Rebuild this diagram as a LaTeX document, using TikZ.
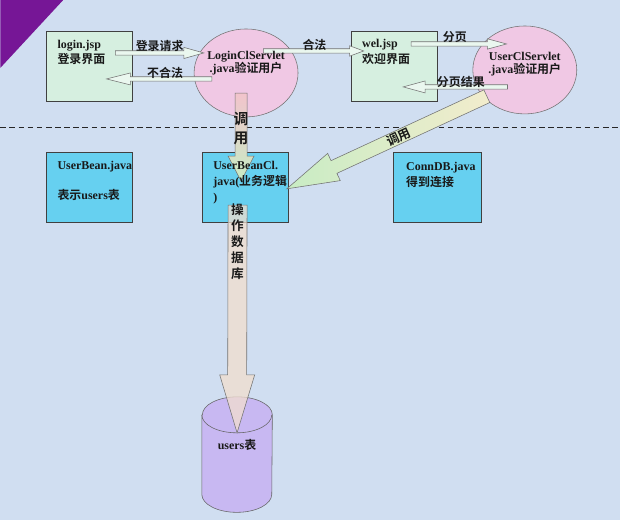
\documentclass[tikz,border=0pt]{standalone}
\usepackage{fontspec}
\setmainfont{Liberation Serif}
\newfontfamily\cjk{Noto Sans CJK SC}[BoldFont={* Bold}]
\usepackage{xcolor}
\usetikzlibrary{shapes.geometric,calc,positioning}
\definecolor{bgblue}{RGB}{208,222,241}
\definecolor{boxgreen}{RGB}{214,239,224}
\definecolor{boxcyan}{RGB}{102,208,240}
\definecolor{servletpink}{RGB}{240,200,228}
\definecolor{dbviolet}{RGB}{200,184,242}
\definecolor{cornerpurple}{RGB}{118,22,150}
\definecolor{arrowpeach}{RGB}{242,222,206}
\definecolor{arrowyellow}{RGB}{242,240,204}
\definecolor{arrowgreen}{RGB}{200,236,196}
\definecolor{arrowpink}{RGB}{242,196,204}
\newcommand{\zh}[1]{{\cjk #1}}
% block arrow: [style]{from}{to}{half shaft}{half head}{head length}
\newcommand{\blockarrow}[6][]{%
  \coordinate (ba-base) at ($(#3)!#6!(#2)$);
  \draw[#1] ($(#2)!#4!90:(#3)$) -- ($(ba-base)!#4!90:(#3)$) -- ($(ba-base)!#5!90:(#3)$) -- (#3)
    -- ($(ba-base)!#5!-90:(#3)$) -- ($(ba-base)!#4!-90:(#3)$) -- ($(#2)!#4!-90:(#3)$) -- cycle;}

\begin{document}
\begin{tikzpicture}[x=0.025cm, y=-0.025cm,
    font=\fontsize{8.5}{11.3}\selectfont\bfseries,
    jspbox/.style={rectangle, draw=black!75, fill=boxgreen, minimum width=2.15cm, minimum height=1.75cm, inner sep=0pt},
    beanbox/.style={jspbox, fill=boxcyan},
    servlet/.style={ellipse, draw=black!55, fill=servletpink, minimum width=2.6cm, minimum height=2.2cm, inner sep=0pt},
    txt/.style={inner sep=0pt, align=left, text=black!90},
    lbl/.style={inner sep=0pt, text=black!90},
    thinarrow/.style={draw=black!55, fill=boxgreen!50!white, line width=0.4pt},
    caparc/.style={x radius=0.875cm, y radius=0.45cm}]

    % background
    \fill[bgblue] (0,0) rectangle (620,520);
    \fill[cornerpurple] (0,0) -- (63,0) -- (0,68) -- cycle;
    \draw[black!85, dash pattern=on 4pt off 2.5pt] (0,127) -- (620,127);

    % pages and servlets
    \node[jspbox] (login) at (89,66) {};
    \node[jspbox] (wel) at (394,66) {};
    \node[servlet] (loginsv) at (246,73) {};
    \node[servlet] (usersv) at (525,70) {};

    % beans
    \node[beanbox] (bean) at (89,187.5) {};
    \node[beanbox] (beancl) at (245.5,187.5) {};
    \node[beanbox, minimum width=2.2cm] (conndb) at (437.5,187.5) {};

    % database
    \node[minimum width=1.75cm, minimum height=2.875cm, inner sep=0pt] (users) at (237,455) {};
    \draw[draw=black!60, fill=dbviolet] ($(users.north west)+(0,18)$) -- ($(users.south west)+(0,-18)$)
        arc[start angle=180, end angle=360, caparc] -- ($(users.north east)+(0,18)$)
        arc[start angle=0, end angle=180, caparc] -- cycle;
    \draw[black!60] ($(users.north west)+(0,18)$) arc[start angle=180, end angle=360, caparc];

    % arrow end points
    \coordinate (req-s) at ($(login.east)+(-17,-13)$);
    \coordinate (req-e) at ($(loginsv.west)+(10,-20)$);
    \coordinate (bad-s) at ($(loginsv.west)+(18,6)$);
    \coordinate (bad-e) at ($(login.east)+(-26,13)$);
    \coordinate (ok-s) at ($(loginsv.east)+(-35,-22)$);
    \coordinate (ok-e) at ($(wel.west)+(13,-15)$);
    \coordinate (page-s) at ($(wel.east)+(-26,-22)$);
    \coordinate (page-e) at ($(usersv.west)+(34,-26)$);
    \coordinate (res-s) at ($(usersv.west)+(35,17)$);
    \coordinate (res-e) at ($(wel.east)+(-34,21)$);
    \coordinate (call-s) at ($(loginsv.south)+(-5,-24)$);
    \coordinate (call-e) at ($(beancl.north)+(-4.5,29)$);
    \coordinate (diag-s) at ($(usersv.south)+(-38,-18)$);
    \coordinate (diag-e) at ($(beancl.east)+(-2,1.5)$);
    \coordinate (db-s) at ($(beancl.south)+(-8,-17.5)$);
    \coordinate (db-e) at ($(users.north)+(0,36)$);

    % thin arrows
    \blockarrow[thinarrow]{req-s}{req-e}{0.55mm}{1.4mm}{5mm}
    \blockarrow[thinarrow]{bad-s}{bad-e}{0.55mm}{1.5mm}{6mm}
    \blockarrow[thinarrow]{ok-s}{ok-e}{0.55mm}{1.3mm}{3.5mm}
    \blockarrow[thinarrow]{page-s}{page-e}{0.55mm}{1.3mm}{4.8mm}
    \blockarrow[thinarrow]{res-s}{res-e}{0.55mm}{1.5mm}{5.5mm}

    % block arrows
    \blockarrow[draw=black!55, top color=arrowpink, bottom color=arrowgreen]{call-s}{call-e}{1.5mm}{3.25mm}{6.25mm}
    \blockarrow[draw=black!55, left color=arrowgreen, right color=arrowyellow!80!arrowpeach]{diag-s}{diag-e}{1.75mm}{3.75mm}{13mm}
    \blockarrow[draw=black!55, fill=arrowpeach, fill opacity=0.75]{db-s}{db-e}{2.375mm}{4.375mm}{14.5mm}

    % texts
    \node[txt, anchor=north west] (login-text) at (57,39.5) {login.jsp\\\zh{登录界面}};
    \node[txt, anchor=north west] (wel-text) at (362,39) {wel.jsp\\\zh{欢迎界面}};
    \node[txt, align=center, font=\fontsize{8.5}{9.5}\selectfont\bfseries] (loginsv-text) at ($(loginsv)+(0,-9.5)$) {LoginClServlet\\.java\zh{验证用户}};
    \node[txt, align=center, font=\fontsize{8.5}{9.5}\selectfont\bfseries] (usersv-text) at ($(usersv)+(0,-6)$) {UserClServlet\\.java\zh{验证用户}};
    \node[txt, anchor=north west] (bean-text) at (57,161.5) {UserBean.java\\[10pt]\zh{表示}users\zh{表}};
    \node[txt, anchor=north west] (beancl-text) at (213,161.5) {UserBeanCl.\\java(\zh{业务逻辑}\\)};
    \node[txt, anchor=north west] (conndb-text) at (406,162.5) {ConnDB.java\\\zh{得到连接}};
    \node[lbl] (users-text) at ($(users)+(0,-10)$) {users\zh{表}};

    % arrow labels
    \node[lbl] (req-l) at ($(req-s)!0.5!(req-e)+(0,-7)$) {\zh{登录请求}};
    \node[lbl] (bad-l) at ($(bad-s)!0.5!(bad-e)+(6,-6)$) {\zh{不合法}};
    \node[lbl] (ok-l) at ($(ok-s)!0.5!(ok-e)+(1,-6)$) {\zh{合法}};
    \node[lbl] (page-l) at ($(page-s)!0.5!(page-e)+(-4,-7)$) {\zh{分页}};
    \node[lbl] (res-l) at ($(res-s)!0.5!(res-e)+(5.5,-5)$) {\zh{分页结果}};
    \node[lbl, align=center, font=\fontsize{10.5}{13.5}\selectfont\bfseries] (call-l) at ($(call-s)!0.4!(call-e)$) {\zh{调}\\\zh{用}};
    \node[lbl, rotate=25, font=\fontsize{9}{10}\selectfont\bfseries] (diag-l) at ($(diag-s)!0.44!(diag-e)$) {\zh{调用}};
    \node[lbl, align=center, font=\fontsize{9}{11.3}\selectfont\bfseries] (db-l) at ($(db-s)!0.16!(db-e)$) {\zh{操}\\\zh{作}\\\zh{数}\\\zh{据}\\\zh{库}};
\end{tikzpicture}
\end{document}
